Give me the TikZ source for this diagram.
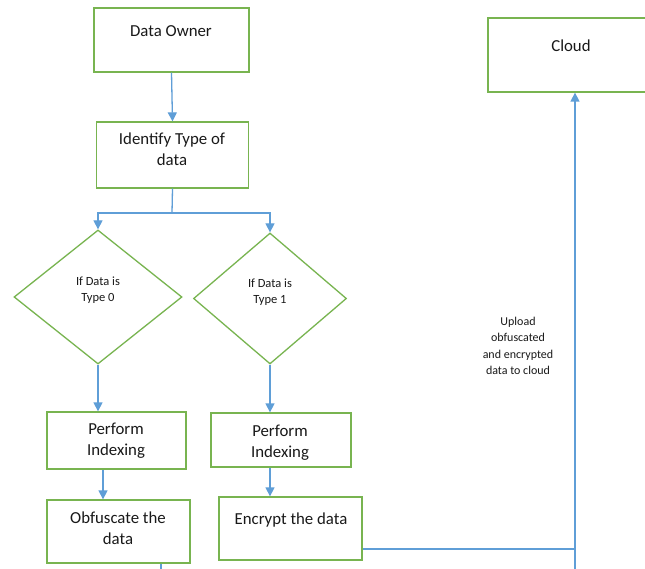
\documentclass[tikz,border=0pt]{standalone}
\usepackage{fontspec}
\setmainfont{Carlito}
\usetikzlibrary{arrows.meta,shapes.geometric}
\definecolor{boxgreen}{RGB}{120,180,80}
\definecolor{lineblue}{RGB}{95,158,215}
\definecolor{txt}{RGB}{25,25,25}
\tikzset{
  box/.style={draw=boxgreen,line width=1.3pt,rectangle,inner sep=0pt},
  dia/.style={draw=boxgreen,line width=1.3pt,diamond,inner sep=0pt},
  maintext/.style={text=txt,font=\fontsize{16.8}{21}\selectfont,align=center,inner sep=0pt},
  smalltext/.style={text=txt,font=\fontsize{12.5}{15.5}\selectfont,align=center,inner sep=0pt},
  uptext/.style={text=txt,font=\fontsize{12}{16.5}\selectfont,align=center,inner sep=0pt},
  conn/.style={draw=lineblue,line width=1.3pt},
  arr/.style={conn,-{Triangle[length=9pt,width=9pt]}}
}
\begin{document}
\begin{tikzpicture}[x=1pt,y=-1pt]
\clip (0,0) rectangle (645,569);
\fill[white] (0,0) rectangle (645,569);
% boxes
\node[box,minimum width=155pt,minimum height=64pt] (owner) at (171.5,40) {};
\node[box,minimum width=152pt,minimum height=66pt] (ident) at (172.5,155) {};
\node[dia,minimum width=168pt,minimum height=134pt] (d1) at (98,297) {};
\node[dia,minimum width=153pt,minimum height=131pt] (d2) at (270,298.5) {};
\node[box,minimum width=139pt,minimum height=57pt] (pi1) at (116.5,440.5) {};
\node[box,minimum width=140pt,minimum height=54pt] (pi2) at (281,440) {};
\node[box,minimum width=143pt,minimum height=63pt] (obf) at (118.5,531.5) {};
\node[box,minimum width=143pt,minimum height=63pt] (enc) at (290.5,528.5) {};
\node[box,minimum width=174pt,minimum height=74pt] (cloud) at (575,55) {};
% texts
\node[maintext] (towner) at (171,31) {Data Owner};
\node[maintext] (tident) at (172,149) {Identify Type of\\data};
\node[smalltext] (td1) at (98,290) {If Data is\\Type 0};
\node[smalltext] (td2) at (270,292) {If Data is\\Type 1};
\node[maintext] (tpi1) at (116,441) {Perform\\Indexing};
\node[maintext] (tpi2) at (280,442.5) {Perform\\Indexing};
\node[maintext] (tobf) at (118,528.5) {Obfuscate the\\data};
\node[maintext] (tenc) at (291,520) {Encrypt the data};
\node[maintext] (tcloud) at (571,46) {Cloud};
\node[uptext] (tup) at (518,346) {Upload\\obfuscated\\and encrypted\\data to cloud};
% connectors
\coordinate (br) at (172,213);
\coordinate (j) at (575,549);
\coordinate (bot) at (575,580);
\coordinate (obfend) at (161,580);
\draw[arr] (owner.south) -- (ident.north);
\draw[conn] (ident.south) -- (br);
\draw[arr] (br) -| (d1.north);
\draw[arr] (br) -| (d2.north);
\draw[arr] (d1.south) -- (d1.south |- pi1.north);
\draw[arr] (d2.south) -- (d2.south |- pi2.north);
\draw[arr] (pi1.south -| 103,0) -- (obf.north -| 103,0);
\draw[arr] (pi2.south -| 270,0) -- (enc.north -| 270,0);
\draw[conn] (obf.south -| obfend) -- (obfend);
\draw[conn] (enc.east |- j) -- (j);
\draw[arr] (bot) -- (cloud.south);
\end{tikzpicture}
\end{document}
